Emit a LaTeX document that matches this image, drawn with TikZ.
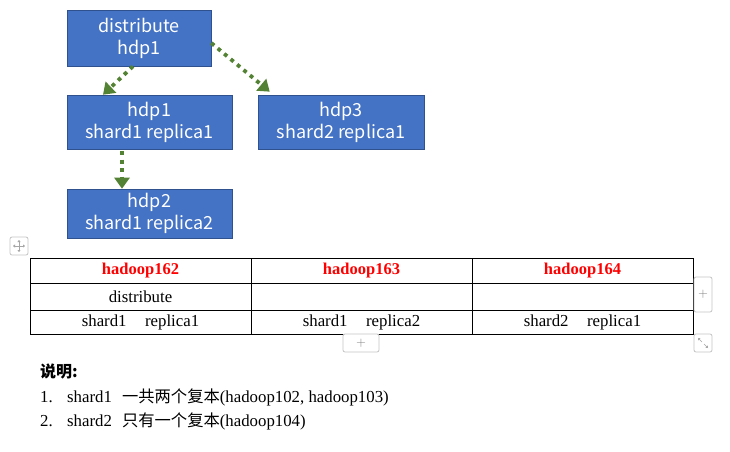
\documentclass[tikz,border=0pt]{standalone}
\usepackage{fontspec}
\setmainfont{Liberation Serif}
\newfontfamily\cjkfont{Noto Sans CJK SC}
\usetikzlibrary{arrows.meta,positioning,calc}
\definecolor{boxblue}{HTML}{4472C4}
\definecolor{boxedge}{HTML}{2F528F}
\definecolor{flowgreen}{HTML}{548235}
\definecolor{widgetgray}{HTML}{C4C4C4}
\definecolor{hostred}{HTML}{FF0000}

\begin{document}
\begin{tikzpicture}[x=1pt,y=-1pt,line cap=butt,
  hdp/.style={fill=boxblue,draw=boxedge,line width=0.6pt,text=white,align=center,inner sep=0pt,
    font=\cjkfont\fontsize{18}{22}\selectfont},
  flow/.style={flowgreen,line width=3.8pt,dash pattern=on 3.8pt off 4.6pt,
    -{Triangle[length=11pt 0,width=15pt 0]}},
  cell/.style={font=\fontsize{16.8}{18}\selectfont},
  host/.style={cell,text=hostred,font=\bfseries\fontsize{16.5}{18}\selectfont},
  note/.style={anchor=west,inner sep=0pt,font=\fontsize{16.8}{18}\selectfont},
  widget/.style={draw=widgetgray,rounded corners=2pt,line width=0.8pt,fill=white,inner sep=0pt,
    text=gray,font=\sffamily\fontsize{13}{13}\selectfont}]
  \useasboundingbox (0,0) rectangle (730,451);

  % boxes
  \node[hdp,minimum width=144,minimum height=56] (dist) at (139,38) {distribute\\hdp1};
  \node[hdp,minimum width=165,minimum height=54] (h1) at (149.5,122) {hdp1\\shard1 replica1};
  \node[hdp,minimum width=166,minimum height=54] (h3) at (341,122) {hdp3\\shard2 replica1};
  \node[hdp,minimum width=165,minimum height=49] (h2) at (149.5,213.5) {hdp2\\shard1 replica2};

  \draw[flow] ([xshift=-6pt]dist.south) -- ([xshift=-46.5pt]h1.north);
  \draw[flow] ([yshift=-5pt]dist.east) -- ([xshift=12pt,yshift=3pt]h3.north west);
  \draw[flow] ([xshift=-27.5pt,yshift=-2pt]h1.south) -- ([xshift=-27.5pt]h2.north);

  % table
  \draw[line width=0.9pt] (30,258) rectangle (693,334);
  \draw[line width=0.9pt] (30,283) -- (693,283) (30,310) -- (693,310);
  \draw[line width=0.9pt] (251,258) -- (251,334) (472,258) -- (472,334);
  \node[host] (t162) at (140.5,270.5) {hadoop162};
  \node[host] (t163) at (361.5,270.5) {hadoop163};
  \node[host] (t164) at (582.5,270.5) {hadoop164};
  \node[cell] (tdist) at (140.5,296.5) {distribute};
  \node[cell] (ts11) at (140.5,322) {shard1\hspace{1.1em}replica1};
  \node[cell] (ts12) at (361.5,322) {shard1\hspace{1.1em}replica2};
  \node[cell] (ts21) at (582.5,322) {shard2\hspace{1.1em}replica1};

  % editor handles
  \node[widget,minimum width=18,minimum height=18] (move) at (19,246) {};
  \draw[gray!70,line width=0.6pt,{Triangle[length=2pt,width=3pt]}-{Triangle[length=2pt,width=3pt]}]
    ([xshift=-6pt]move.center) -- ([xshift=6pt]move.center);
  \draw[gray!70,line width=0.6pt,{Triangle[length=2pt,width=3pt]}-{Triangle[length=2pt,width=3pt]}]
    ([yshift=-6pt]move.center) -- ([yshift=6pt]move.center);
  \node[widget,minimum width=18,minimum height=35] (addcol) at (703,294.5) {+};
  \node[widget,minimum width=36,minimum height=18] (addrow) at (361,343) {+};
  \node[widget,minimum width=18,minimum height=18] (resize) at (703,343) {};
  \draw[gray!70,line width=0.6pt,-{Triangle[length=2pt,width=3pt]}]
    ([xshift=-1pt,yshift=1pt]resize.center) -- ([xshift=-5pt,yshift=5pt]resize.center);
  \draw[gray!70,line width=0.6pt,-{Triangle[length=2pt,width=3pt]}]
    ([xshift=1pt,yshift=-1pt]resize.center) -- ([xshift=5pt,yshift=-5pt]resize.center);

  % notes
  \node[note,font=\cjkfont\bfseries\fontsize{16}{18}\selectfont] (title) at (40,371) {说明:};
  \node[note] (n1) at (40,397) {1.};
  \node[note] (n1t) at (67,397) {shard1\hspace{0.6em}{\cjkfont\fontsize{16.3}{18}\selectfont 一共两个复本}(hadoop102, hadoop103)};
  \node[note] (n2) at (40,421) {2.};
  \node[note] (n2t) at (67,421) {shard2\hspace{0.6em}{\cjkfont\fontsize{16.3}{18}\selectfont 只有一个复本}(hadoop104)};
\end{tikzpicture}
\end{document}
